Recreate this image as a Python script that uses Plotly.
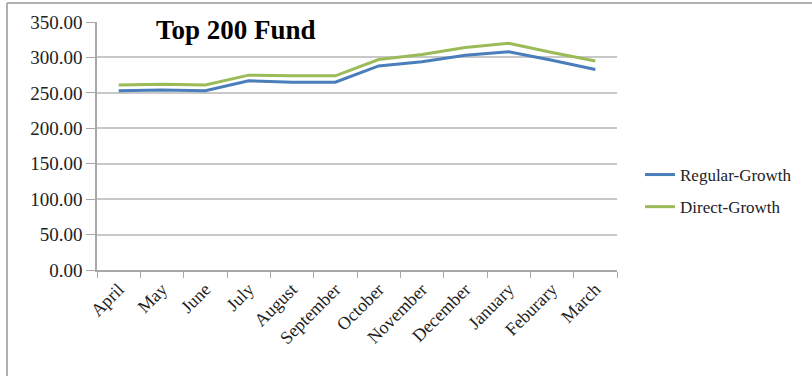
import plotly.graph_objects as go

months = ["April", "May", "June", "July", "August", "September", "October",
          "November", "December", "January", "Feburary", "March"]
regular_growth = [253, 254, 253, 267, 265, 265, 288, 294, 303, 308, 296, 283]
direct_growth = [261, 262, 261, 275, 274, 274, 297, 304, 314, 320, 307, 295]
y_ticks = [0, 50, 100, 150, 200, 250, 300, 350]

W, H = 812, 376
L, R, T, B = 97, 195, 22, 106
PW, PH = W - L - R, H - T - B


def px_x(px):
    return (px - L) / PW


def px_y(py):
    return (H - B - py) / PH


font_family = "Liberation Serif, Times New Roman, serif"

fig = go.Figure()
fig.add_trace(go.Scatter(x=months, y=regular_growth, mode="lines", name="Regular-Growth",
                         line=dict(color="#4a7ebb", width=3), legendgroup="a"))
fig.add_trace(go.Scatter(x=months, y=direct_growth, mode="lines", name="Direct-Growth",
                         line=dict(color="#9bbb59", width=3), legendgroup="b"))

fig.update_layout(
    width=W, height=H,
    margin=dict(l=L, r=R, t=T, b=B),
    paper_bgcolor="white", plot_bgcolor="white",
    font=dict(family=font_family, size=17, color="#222"),
    showlegend=True,
    legend=dict(x=px_x(640), y=px_y(157), xanchor="left", yanchor="top",
                font=dict(size=17, family=font_family), tracegroupgap=7,
                bgcolor="rgba(0,0,0,0)"),
    xaxis=dict(type="category", tickangle=-45, showgrid=False,
               showline=True, linecolor="#a8a8a8", linewidth=1.5,
               ticks="outside", tickson="boundaries", ticklen=6, tickcolor="#a8a8a8",
               tickfont=dict(size=18, family=font_family), range=[-0.5, 11.5]),
    yaxis=dict(range=[0, 350], tickvals=y_ticks, tickformat=".2f",
               showgrid=True, gridcolor="#c8c8c8", gridwidth=1.5,
               showline=True, linecolor="#a8a8a8", linewidth=1.5,
               ticks="outside", ticklen=9, tickcolor="#a8a8a8", zeroline=False,
               tickfont=dict(size=19, family=font_family)),
    annotations=[dict(text="<b>Top 200 Fund</b>", x=px_x(154), y=px_y(30),
                      xref="paper", yref="paper", xanchor="left", yanchor="middle",
                      showarrow=False, font=dict(size=27, family=font_family, color="black"))],
    shapes=[
        dict(type="line", xref="paper", yref="paper", x0=px_x(7), x1=px_x(W + 5),
             y0=px_y(3), y1=px_y(3), line=dict(color="#b0b0b0", width=2)),
        dict(type="line", xref="paper", yref="paper", x0=px_x(7), x1=px_x(7),
             y0=px_y(3), y1=px_y(H + 5), line=dict(color="#b0b0b0", width=2)),
    ],
)

fig.write_html("out.html")
